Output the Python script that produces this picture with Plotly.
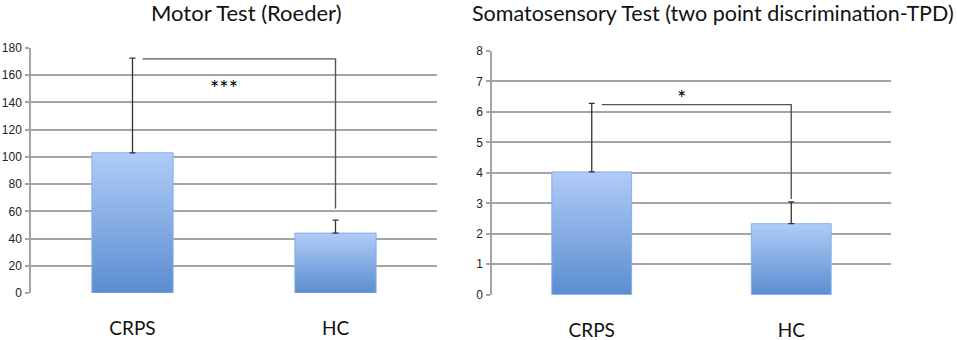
import plotly.graph_objects as go

categories = ["CRPS", "HC"]

motor_title = "Motor Test (Roeder)"
motor_means = [103, 44]
motor_err_plus = [69.5, 9.5]
motor_sig_y = 172
motor_sig_drop = 62
motor_sig_label = "***"
motor_yticks = [0, 20, 40, 60, 80, 100, 120, 140, 160, 180]

tpd_title = "Somatosensory Test (two point discrimination-TPD)"
tpd_means = [4.03, 2.33]
tpd_err_plus = [2.25, 0.72]
tpd_sig_y = 6.24
tpd_sig_drop = 3.14
tpd_sig_label = "*"
tpd_yticks = [0, 1, 2, 3, 4, 5, 6, 7, 8]

BAR_W = 0.4
TOP_COL = "#b0ccf7"
BOT_COL = "#5b8dd0"
FONT = "Lato"

fig = go.Figure()


def add_panel(xa, ya, means, errs, sig_y, sig_drop, sig_label, star_off):
    xref = "x" if xa == "xaxis" else "x2"
    yref = "y" if ya == "yaxis" else "y2"
    for i, v in enumerate(means):
        fig.add_trace(go.Scatter(
            x=[i - BAR_W / 2, i + BAR_W / 2, i + BAR_W / 2, i - BAR_W / 2, i - BAR_W / 2],
            y=[0, 0, v, v, 0],
            fill="toself", mode="lines",
            line=dict(color="#86aee6", width=1),
            fillgradient=dict(type="vertical",
                              colorscale=[[0, BOT_COL], [1, TOP_COL]]),
            xaxis=xref, yaxis=yref, hoverinfo="skip", showlegend=False))
    fig.add_trace(go.Scatter(
        x=list(range(len(means))), y=means, mode="markers",
        marker=dict(size=1, color="rgba(0,0,0,0)"),
        error_y=dict(type="data", array=errs, arrayminus=[0] * len(errs),
                     symmetric=False, color="#333333", thickness=1.3, width=3),
        xaxis=xref, yaxis=yref, showlegend=False))
    # significance bracket
    fig.add_trace(go.Scatter(
        x=[0.05, 1, 1], y=[sig_y, sig_y, sig_drop], mode="lines",
        line=dict(color="#555555", width=1.4),
        xaxis=xref, yaxis=yref, hoverinfo="skip", showlegend=False))
    fig.add_annotation(x=0.45, y=sig_y + star_off, xref=xref, yref=yref,
                       text=sig_label, showarrow=False,
                       font=dict(family=FONT, size=22, color="#000000"))


add_panel("xaxis", "yaxis", motor_means, motor_err_plus, motor_sig_y,
          motor_sig_drop, motor_sig_label, -21)
add_panel("xaxis2", "yaxis2", tpd_means, tpd_err_plus, tpd_sig_y,
          tpd_sig_drop, tpd_sig_label, 0.25)

xcommon = dict(range=[-0.5, 1.5], tickvals=[0, 1], ticktext=categories,
               showgrid=False, zeroline=False, showline=False, ticks="",
               tickfont=dict(family=FONT, size=19, color="#111111"),
               ticklabelstandoff=22, fixedrange=True, automargin=False)
ycommon = dict(showgrid=True, gridcolor="#a4a4a4", gridwidth=1.5,
               zeroline=False, showline=True, linecolor="#a4a4a4", linewidth=1.5,
               ticks="outside", ticklen=4, tickcolor="#a4a4a4", tickwidth=1.5,
               tickfont=dict(family="Liberation Sans", size=12, color="#222222"),
               ticklabelstandoff=1, fixedrange=True, automargin=False)

fig.update_layout(
    width=957, height=340,
    margin=dict(l=0, r=0, t=0, b=0, autoexpand=False),
    plot_bgcolor="white", paper_bgcolor="white",
    showlegend=False,
    xaxis=dict(domain=[31 / 957, 437 / 957], anchor="y", **xcommon),
    xaxis2=dict(domain=[492 / 957, 891 / 957], anchor="y2", **xcommon),
    yaxis=dict(domain=[47 / 340, 292 / 340], anchor="x", range=[0, 180],
               tickvals=motor_yticks, **ycommon),
    yaxis2=dict(domain=[45.3 / 340, 289 / 340], anchor="x2", range=[0, 8],
                tickvals=tpd_yticks, **ycommon),
)

fig.add_annotation(x=247 / 957, y=1 - 13 / 340, xref="paper", yref="paper",
                   text=motor_title, showarrow=False, xanchor="center", yanchor="middle",
                   font=dict(family=FONT, size=22, color="#111111"))
fig.add_annotation(x=713 / 957, y=1 - 13 / 340, xref="paper", yref="paper",
                   text=tpd_title, showarrow=False, xanchor="center", yanchor="middle",
                   font=dict(family=FONT, size=21.5, color="#111111"))

fig.write_html("out.html", post_script="document.body.style.margin='0';",
               config={"displayModeBar": False})
